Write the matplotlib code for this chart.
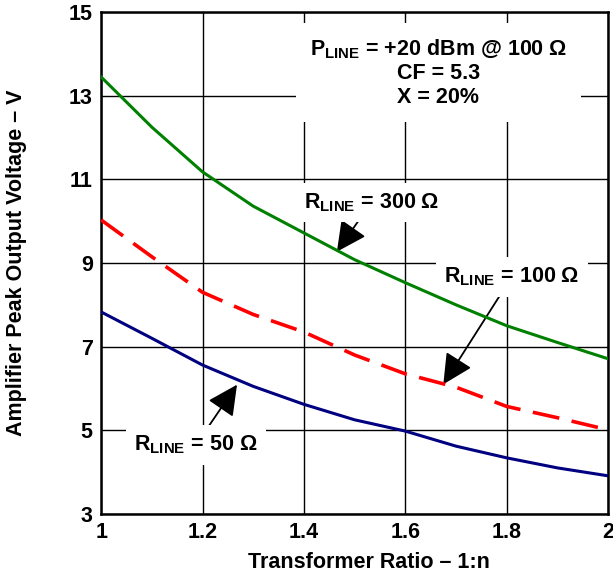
import matplotlib.pyplot as plt

plt.rcParams['font.family'] = ['Liberation Sans', 'DejaVu Sans']
plt.rcParams['mathtext.fontset'] = 'custom'
plt.rcParams['mathtext.rm'] = 'Liberation Sans:bold'
plt.rcParams['mathtext.bf'] = 'Liberation Sans:bold'

# data
ratio = [1.0, 1.1, 1.2, 1.3, 1.4, 1.5, 1.6, 1.7, 1.8, 1.9, 2.0]
v_300 = [13.45, 12.25, 11.18, 10.36, 9.72, 9.08, 8.53, 8.0, 7.5, 7.1, 6.71]
v_100 = [10.03, 9.15, 8.3, 7.77, 7.35, 6.8, 6.35, 6.03, 5.57, 5.3, 5.01]
v_50 = [7.83, 7.2, 6.56, 6.05, 5.62, 5.25, 4.98, 4.62, 4.34, 4.1, 3.91]

x_ticks = [1, 1.2, 1.4, 1.6, 1.8, 2]
x_labels = ['1', '1.2', '1.4', '1.6', '1.8', '2']
y_ticks = [3, 5, 7, 9, 11, 13, 15]

fig = plt.figure(figsize=(6.13, 5.80), dpi=100)
ax = fig.add_axes([0.165, 0.114, 0.827, 0.865])

ax.plot(ratio, v_300, color='#008000', lw=2.2, zorder=3)
ax.plot(ratio, v_100, color='#ff0000', lw=2.6, dashes=(7.5, 3.5), zorder=3)
ax.plot(ratio, v_50, color='#000080', lw=2.2, zorder=3)

ax.set_xlim(1, 2)
ax.set_ylim(3, 15)
ax.set_xticks(x_ticks)
ax.set_xticklabels(x_labels)
ax.set_yticks(y_ticks)
ax.tick_params(length=0, labelsize=15.5, pad=6)
for lab in ax.get_xticklabels() + ax.get_yticklabels():
    lab.set_fontweight('bold')
ax.grid(True, color='black', lw=1.0, zorder=1)
for sp in ax.spines.values():
    sp.set_linewidth(1.8)

ax.set_xlabel('Transformer Ratio – 1:n', fontsize=15.5, fontweight='bold')
ax.set_ylabel('Amplifier Peak Output Voltage – V', fontsize=15.5, fontweight='bold')
ax.xaxis.set_label_coords(0.529, -0.076)
ax.yaxis.set_label_coords(-0.146, 0.5)

box = dict(facecolor='white', edgecolor='none', pad=6)
fs = 15.5
ax.text(1.665, 13.55, '$\\mathbf{P_{LINE}}$ = +20 dBm @ 100 Ω\nCF = 5.3\nX = 20%',
        ha='center', va='center', multialignment='center', fontsize=fs,
        fontweight='bold', linespacing=1.15, bbox=dict(facecolor='white', edgecolor='none', pad=10),
        zorder=2)

arrow = dict(arrowstyle='-|>,head_length=1.2,head_width=0.6', color='black', lw=1.3,
             shrinkA=0, shrinkB=0)

ax.annotate('$\\mathbf{R_{LINE}}$ = 300 Ω', xy=(1.465, 9.27), xytext=(1.533, 10.45),
            ha='center', va='center', fontsize=fs, fontweight='bold', bbox=box,
            arrowprops=arrow, zorder=2.5)
ax.annotate('$\\mathbf{R_{LINE}}$ = 100 Ω', xy=(1.675, 6.1), xytext=(1.81, 8.67),
            ha='center', va='center', fontsize=fs, fontweight='bold', bbox=box,
            arrowprops=arrow, zorder=2.5)
ax.annotate('$\\mathbf{R_{LINE}}$ = 50 Ω', xy=(1.268, 6.09), xytext=(1.187, 4.65),
            ha='center', va='center', fontsize=fs, fontweight='bold', bbox=box,
            arrowprops=arrow, zorder=2.5)

fig.savefig('out.png', dpi=100)
